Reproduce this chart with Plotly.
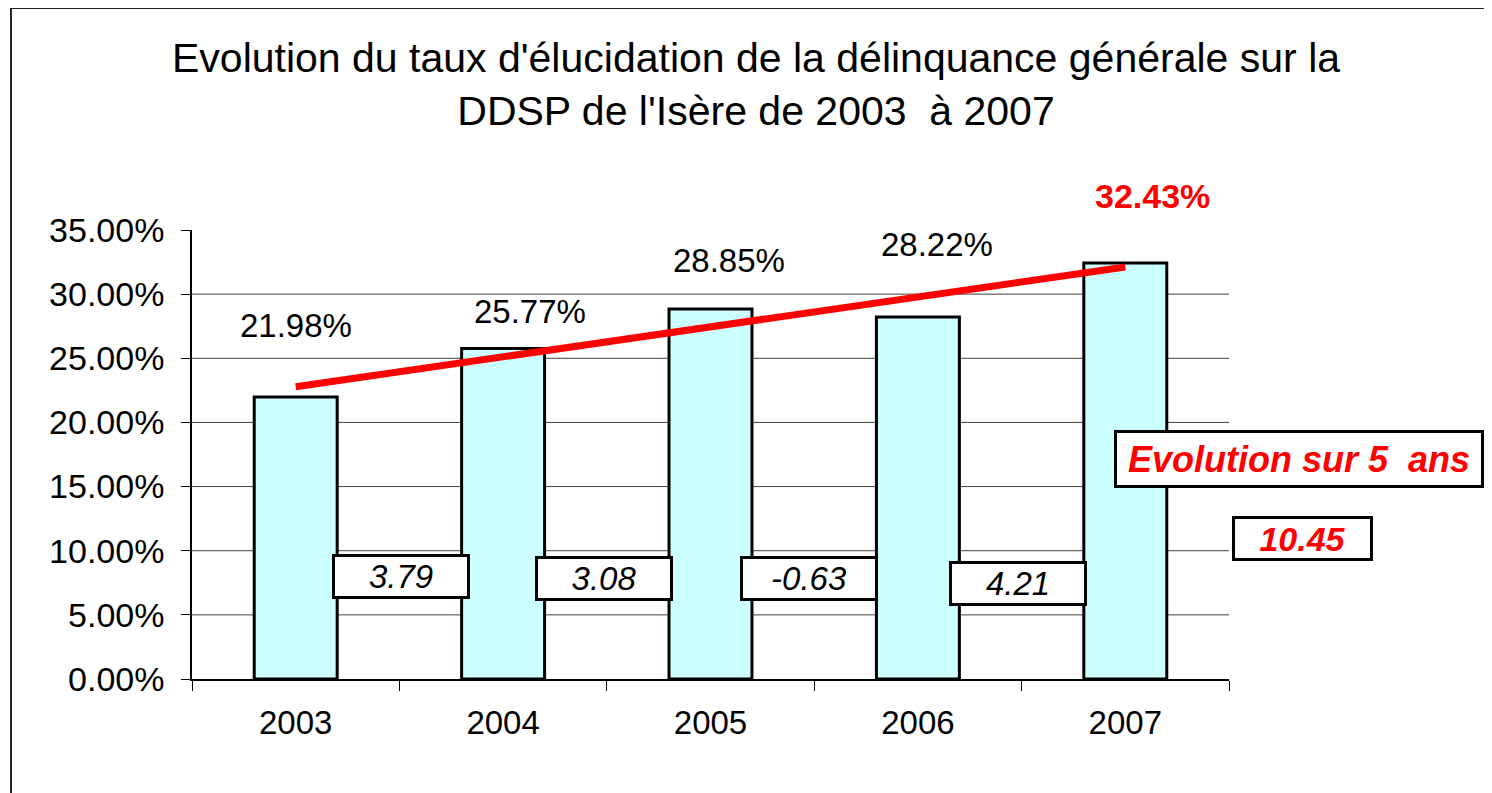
import numpy as np
import plotly.graph_objects as go

years = ["2003", "2004", "2005", "2006", "2007"]
rates = [21.98, 25.77, 28.85, 28.22, 32.43]          # taux d'élucidation (%)
rate_labels = ["21.98%", "25.77%", "28.85%", "28.22%", "32.43%"]
diffs = ["3.79", "3.08", "-0.63", "4.21"]             # évolution annuelle
total_evol = "10.45"
title_lines = ["Evolution du taux d'élucidation de la délinquance générale sur la",
               "DDSP de l'Isère de 2003\u00a0 à 2007"]
evol_text = "Evolution sur 5\u00a0 ans"

FONT = "Liberation Sans, Arial, sans-serif"
OFF = 8  # page body margin
W, H = 1492 - OFF, 793 - OFF
PL, PR, PT, PB = 192 - OFF, 1229 - OFF, 230 - OFF, 679 - OFF  # plot area in pixels

def px(xp):
    return (xp - OFF - PL) / (PR - PL)

def py(yp):
    return (PB - (yp - OFF)) / (PB - PT)

vals = [v / 100 for v in rates]

fig = go.Figure()
fig.add_trace(go.Bar(
    x=years, y=vals, width=0.4,
    marker=dict(color="#CCFFFF", line=dict(color="black", width=3)),
    hoverinfo="skip", showlegend=False,
))

# linear trendline (as Excel)
idx = np.arange(len(vals))
slope, icpt = np.polyfit(idx, vals, 1)
fig.add_trace(go.Scatter(
    x=[years[0], years[-1]], y=[icpt, icpt + slope * idx[-1]],
    mode="lines", line=dict(color="#FF0000", width=7),
    hoverinfo="skip", showlegend=False,
))

shapes = []
# gridlines (no line at the top)
for g in np.arange(0.05, 0.30001, 0.05):
    shapes.append(dict(type="line", xref="paper", yref="y", x0=0, x1=1, y0=g, y1=g,
                       line=dict(color="#404040", width=1), layer="below"))
# outer chart border
shapes.append(dict(type="rect", xref="paper", yref="paper",
                   x0=px(11), x1=px(1520), y0=py(820), y1=py(8),
                   line=dict(color="#222222", width=2), fillcolor="rgba(0,0,0,0)"))

ann = []
ann.append(dict(text="<br>".join(title_lines), xref="paper", yref="paper",
                x=px(756), y=py(84), xanchor="center", yanchor="middle",
                showarrow=False, font=dict(family=FONT, size=41, color="black")))

# value labels (manually placed as in the original)
lab_pos = [(0, 325), (1.13, 311), (2.09, 260), (3.09, 245), (4.13, 196)]
for i, (lx, ly) in enumerate(lab_pos):
    last = i == len(lab_pos) - 1
    ann.append(dict(text=("<b>%s</b>" % rate_labels[i]) if last else rate_labels[i],
                    xref="x", yref="paper", x=lx, y=py(ly),
                    showarrow=False, xanchor="center", yanchor="middle",
                    font=dict(family=FONT, size=34 if last else 33,
                              color="#FF0000" if last else "black")))

# yearly change boxes
box_pos = [(401, 576), (604, 578), (809, 578), (1018, 583)]
for d, (bx, by) in zip(diffs, box_pos):
    ann.append(dict(text="<i>%s</i>" % d, xref="paper", yref="paper",
                    x=px(bx), y=py(by), showarrow=False, xanchor="center", yanchor="middle",
                    width=132, height=39, bgcolor="white", bordercolor="black",
                    borderwidth=3, borderpad=0,
                    font=dict(family=FONT, size=33, color="black")))

ann.append(dict(text="<b><i>%s</i></b>" % evol_text, xref="paper", yref="paper",
                x=px(1299), y=py(459), showarrow=False, xanchor="center", yanchor="middle",
                width=364, height=52, bgcolor="white", bordercolor="black",
                borderwidth=3, borderpad=0,
                font=dict(family=FONT, size=36, color="#FF0000")))
ann.append(dict(text="<b><i>%s</i></b>" % total_evol, xref="paper", yref="paper",
                x=px(1302), y=py(538), showarrow=False, xanchor="center", yanchor="middle",
                width=135, height=39, bgcolor="white", bordercolor="black",
                borderwidth=3, borderpad=0,
                font=dict(family=FONT, size=34, color="#FF0000")))

fig.update_layout(
    width=W, height=H,
    margin=dict(l=PL, r=W - PR, t=PT, b=H - PB, pad=0),
    paper_bgcolor="white", plot_bgcolor="white",
    shapes=shapes, annotations=ann,
    bargap=0.6,
    font=dict(family=FONT, color="black"),
)
fig.update_xaxes(type="category", range=[-0.5, 4.5], tickson="boundaries",
                 ticks="outside", ticklen=10, tickcolor="black", tickwidth=1,
                 showline=True, linecolor="black", linewidth=1.5, showgrid=False,
                 tickfont=dict(family=FONT, size=33, color="black"),
                 ticklabelstandoff=14)
fig.update_yaxes(range=[0, 0.35], dtick=0.05, tick0=0, tickformat=".2%",
                 ticks="outside", ticklen=9, tickcolor="black", tickwidth=1,
                 showline=True, linecolor="black", linewidth=1.5,
                 showgrid=False, zeroline=False,
                 tickfont=dict(family=FONT, size=34, color="black"),
                 ticklabelstandoff=10)

fig.write_html("out.html")
